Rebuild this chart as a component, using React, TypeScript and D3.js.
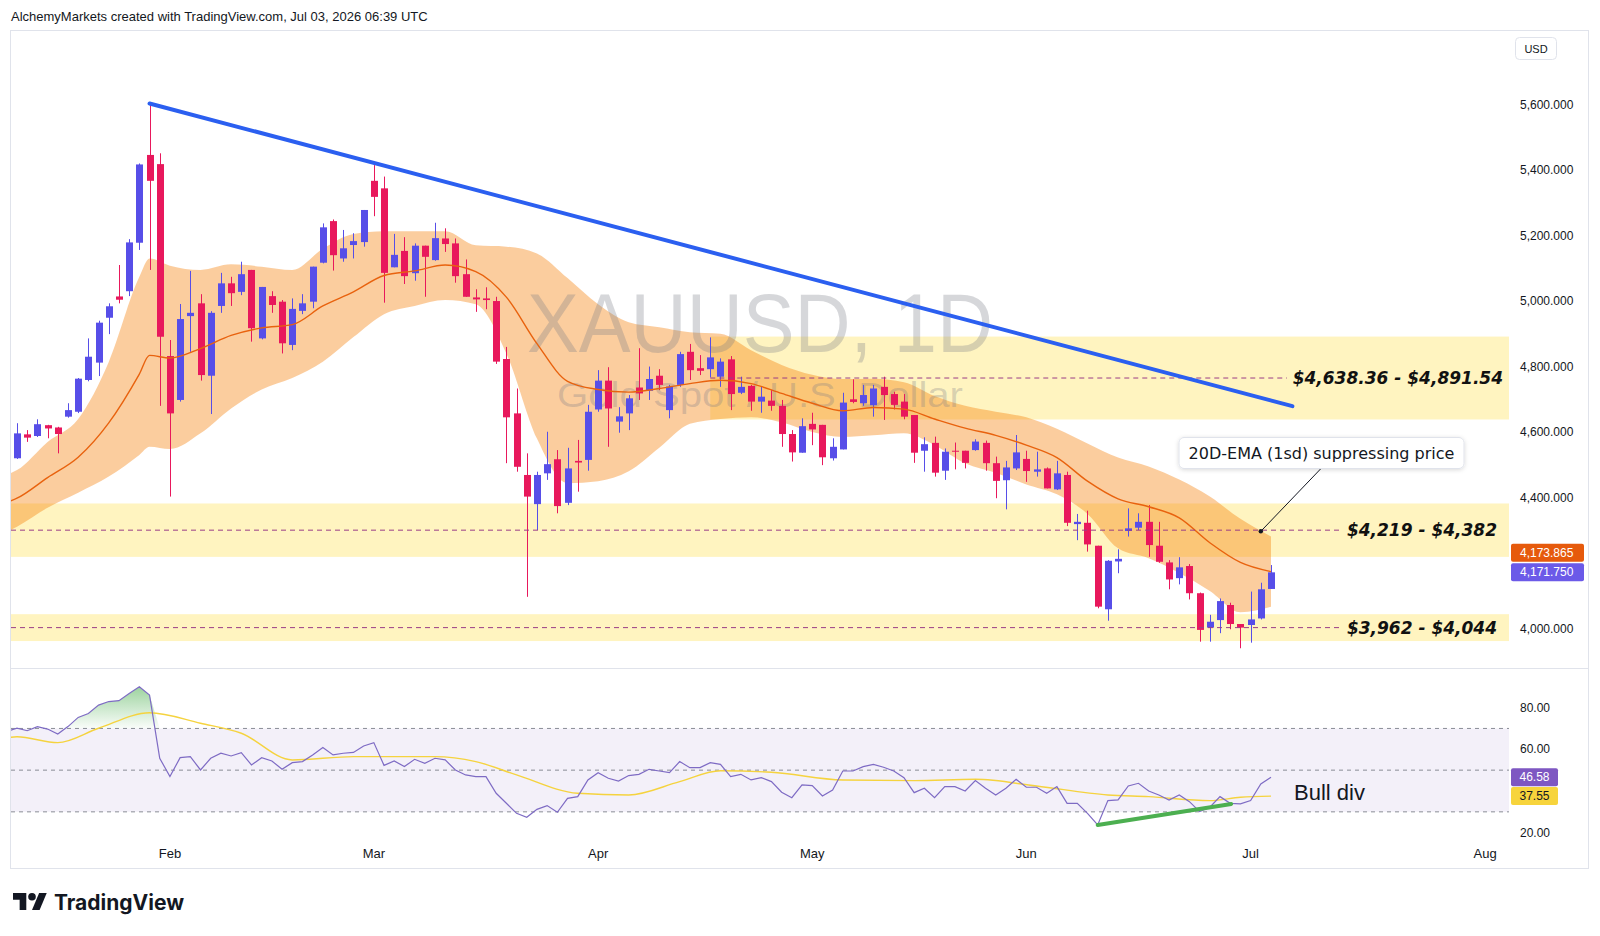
import React from "react";
import * as d3 from "d3";

const W = 1600;
const H = 936;

// daily candles, bar 0 = mid Jan 2026, bar 123 = Jul 3 2026
const opens = [
  4520, 4593, 4588, 4621, 4614, 4647, 4662, 4759, 4812, 4949, 5014, 5030, 5178, 5446, 5418, 4832,
  4698, 4954, 4993, 4772, 4985, 5054, 5028, 5095, 4886, 5015, 4998, 4866, 4970, 4998, 5117, 5244,
  5130, 5171, 5180, 5367, 5344, 5103, 5153, 5085, 5169, 5125, 5191, 5176, 5082, 5011, 5008, 5000,
  4823, 4657, 4469, 4380, 4474, 4517, 4384, 4512, 4515, 4669, 4757, 4632, 4657, 4736, 4726, 4772,
  4667, 4744, 4845, 4795, 4792, 4769, 4822, 4720, 4741, 4693, 4696, 4680, 4594, 4537, 4625, 4622,
  4520, 4547, 4700, 4688, 4682, 4738, 4716, 4693, 4652, 4543, 4567, 4482, 4543, 4543, 4545, 4567,
  4505, 4453, 4489, 4518, 4479, 4489, 4425, 4469, 4319, 4323, 4253, 4059, 4205, 4298, 4308, 4326,
  4253, 4202, 4154, 4191, 4108, 4003, 4026, 4072, 4014, 4011, 4031, 4121,
];
const highs = [
  4627, 4606, 4639, 4622, 4616, 4688, 4765, 4886, 4940, 4993, 5110, 5189, 5420, 5603, 5451, 4881,
  4991, 5092, 5021, 4969, 5086, 5074, 5120, 5095, 5043, 5030, 5003, 5008, 5021, 5105, 5237, 5249,
  5217, 5207, 5278, 5415, 5380, 5205, 5195, 5176, 5169, 5239, 5222, 5191, 5127, 5036, 5042, 5013,
  4860, 4733, 4535, 4479, 4601, 4545, 4552, 4576, 4683, 4789, 4798, 4676, 4713, 4856, 4800, 4792,
  4744, 4845, 4869, 4835, 4889, 4825, 4832, 4769, 4744, 4738, 4728, 4698, 4606, 4642, 4659, 4622,
  4581, 4720, 4761, 4744, 4744, 4769, 4723, 4716, 4652, 4584, 4586, 4550, 4568, 4543, 4578, 4574,
  4525, 4512, 4591, 4543, 4540, 4492, 4512, 4479, 4350, 4360, 4253, 4209, 4242, 4367, 4352, 4377,
  4326, 4209, 4218, 4197, 4110, 4042, 4092, 4079, 4014, 4113, 4140, 4194,
];
const lows = [
  4518, 4570, 4585, 4581, 4535, 4644, 4658, 4755, 4771, 4899, 4993, 5015, 5156, 5095, 4680, 4403,
  4693, 4845, 4757, 4655, 4964, 4985, 5018, 4876, 4883, 4964, 4840, 4850, 4960, 4978, 5115, 5093,
  5120, 5130, 5166, 5259, 4995, 5103, 5052, 5062, 5013, 5123, 5150, 5056, 5013, 4967, 4975, 4808,
  4505, 4479, 4097, 4301, 4454, 4352, 4377, 4418, 4482, 4662, 4555, 4598, 4606, 4698, 4698, 4728,
  4642, 4738, 4759, 4774, 4767, 4738, 4667, 4716, 4665, 4659, 4665, 4555, 4510, 4537, 4560, 4499,
  4513, 4547, 4688, 4680, 4647, 4637, 4669, 4639, 4506, 4479, 4464, 4454, 4486, 4489, 4543, 4482,
  4398, 4364, 4484, 4448, 4464, 4428, 4423, 4313, 4270, 4235, 4062, 4024, 4169, 4281, 4301, 4219,
  4201, 4120, 4135, 4089, 3960, 3960, 3986, 3998, 3940, 3957, 4028, 4121,
];
const closes = [
  4596, 4583, 4624, 4611, 4594, 4667, 4763, 4830, 4934, 4984, 5004, 5179, 5417, 5367, 4891, 4657,
  4945, 4964, 4774, 4964, 5054, 5024, 5082, 4917, 5043, 4988, 4871, 4976, 4993, 5105, 5225, 5140,
  5161, 5183, 5278, 5318, 5086, 5141, 5076, 5169, 5135, 5192, 5174, 5076, 5013, 5005, 5003, 4815,
  4645, 4494, 4403, 4469, 4502, 4374, 4489, 4507, 4662, 4757, 4672, 4648, 4703, 4718, 4762, 4744,
  4739, 4838, 4789, 4787, 4828, 4815, 4716, 4738, 4693, 4708, 4680, 4594, 4538, 4618, 4608, 4523,
  4555, 4690, 4692, 4713, 4733, 4713, 4683, 4647, 4537, 4563, 4476, 4540, 4540, 4506, 4571, 4505,
  4451, 4492, 4538, 4481, 4486, 4428, 4474, 4323, 4326, 4257, 4067, 4207, 4213, 4306, 4326, 4255,
  4204, 4150, 4187, 4108, 3996, 4021, 4084, 4014, 4003, 4028, 4120, 4171.75,
];

// 20D EMA with +/- 1 sd band, read every few bars
const bandIdx = [-1, 0, 3, 6, 9, 12, 13, 15, 18, 21, 24, 27, 30, 33, 36, 39, 42, 45, 48, 51, 54, 57, 60, 63, 66, 69, 72, 75, 78, 81, 84, 87, 90, 93, 96, 99, 102, 105, 108, 111, 114, 117, 120, 123];
const emaMid = [4385, 4398, 4461, 4523, 4628, 4777, 4834, 4826, 4855, 4895, 4918, 4928, 4985, 5028, 5078, 5092, 5110, 5090, 5012, 4870, 4755, 4730, 4722, 4733, 4748, 4758, 4748, 4718, 4688, 4665, 4675, 4670, 4640, 4612, 4590, 4560, 4522, 4450, 4396, 4372, 4338, 4262, 4202, 4173.865];
const bandUpper = [4470, 4484, 4570, 4640, 4814, 5074, 5130, 5108, 5095, 5112, 5105, 5095, 5160, 5205, 5213, 5213, 5213, 5170, 5166, 5145, 5070, 4990, 4935, 4920, 4905, 4900, 4850, 4805, 4775, 4762, 4763, 4752, 4710, 4680, 4662, 4645, 4610, 4565, 4522, 4495, 4455, 4403, 4335, 4281];
const bandLower = [4295, 4311, 4369, 4415, 4464, 4530, 4555, 4548, 4596, 4672, 4730, 4765, 4815, 4890, 4960, 4985, 5003, 4990, 4840, 4580, 4444, 4450, 4480, 4552, 4625, 4640, 4645, 4630, 4600, 4585, 4590, 4596, 4560, 4505, 4476, 4440, 4410, 4350, 4245, 4215, 4170, 4115, 4050, 4067];

// RSI(14), first value is the partial bar at the left edge (bar -1)
const rsiVals = [
  68.5,
  70.1, 68.9, 70.9, 69.7, 67.3, 70.9, 75.3, 77.2, 81.2, 82.9, 83.3, 86.8, 90.0, 86.0, 55.7, 46.9,
  56.0, 56.5, 50.1, 55.7, 58.1, 56.8, 58.4, 52.5, 56.0, 54.4, 50.4, 53.6, 54.1, 57.3, 60.9, 57.3,
  58.1, 58.5, 61.6, 63.2, 52.3, 54.4, 51.7, 55.2, 53.3, 55.7, 54.9, 50.1, 47.7, 46.9, 46.9, 38.9,
  34.1, 29.3, 27.4, 31.2, 33.0, 29.8, 36.5, 37.3, 45.3, 48.8, 46.1, 44.8, 47.4, 48.0, 50.4, 49.6,
  48.8, 54.1, 51.2, 51.2, 53.6, 52.8, 46.9, 48.0, 45.3, 46.4, 44.5, 39.4, 36.8, 42.9, 42.6, 37.6,
  40.5, 49.6, 49.6, 51.7, 52.8, 51.4, 49.6, 46.4, 39.2, 41.3, 36.8, 42.1, 42.1, 40.0, 45.0, 41.3,
  38.1, 41.3, 45.6, 41.8, 41.8, 38.9, 42.1, 34.1, 34.1, 29.3, 23.7, 35.4, 35.7, 42.4, 43.7, 40.0,
  38.1, 35.7, 38.1, 34.9, 30.1, 32.2, 37.3, 34.1, 33.8, 35.4, 43.4, 46.58,
];
const rsiMaIdx = [-1, 0, 4, 8, 13, 18, 22, 27, 33, 41, 45, 49, 55, 60, 65, 69, 74, 81, 88, 94, 100, 107, 111, 117, 120, 123];
const rsiMaVals = [65.5, 66.0, 63.2, 70.1, 77.5, 72.5, 67.7, 54.9, 56.5, 56.5, 54.1, 47.7, 38.9, 38.1, 44.5, 49.7, 49.0, 45.3, 45.0, 45.6, 42.4, 38.1, 37.3, 35.4, 37.0, 37.55];

// 4,200 and 40.00 sit under the last-value boxes in the reference, so they are not shown
const priceTicks = [4000, 4400, 4600, 4800, 5000, 5200, 5400, 5600];
const rsiTicks = [20, 60, 80];
const rsiBands = [70, 50, 30];
const monthLabels = ["Feb", "Mar", "Apr", "May", "Jun", "Jul", "Aug"];
const monthIdx = [15, 35, 57, 78, 99, 121, 144];

// supply / demand zones
const zoneLow = [4638.36, 4219, 3962];
const zoneHigh = [4891.54, 4382, 4044];
const zoneStart = [68, -1, -1];
const zoneText = ["$4,638.36 - $4,891.54", "$4,219 - $4,382", "$3,962 - $4,044"];
const zoneTextEnd = [1503, 1497, 1497];

const trendIdx = [13, 125.1];
const trendPrice = [5603, 4679];
const divIdx = [106, 119.1];
const divRsi = [23.7, 33.8];
const calloutPoint = { i: 122, p: 4297 };

const UP = "#574ee8";
const DOWN = "#e8185c";
const TXT = "#131722";
const FONT = "'Liberation Sans', Arial, sans-serif";

export default function App() {
  const plotL = 11;
  const plotR = 1509;
  const x = d3.scaleLinear().domain([0, 123]).range([17, 1271]);
  const y = d3.scaleLinear().domain([4000, 5600]).range([628.6, 104.5]);
  const ry = d3.scaleLinear().domain([20, 80]).range([832.7, 707.6]);

  const bandPts = bandIdx.map((b, k) => ({ i: b, mid: emaMid[k], up: bandUpper[k], lo: bandLower[k] }));
  const bandPath = d3
    .area<any>()
    .x((d) => x(d.i))
    .y0((d) => y(d.lo))
    .y1((d) => y(d.up))
    .curve(d3.curveMonotoneX)(bandPts);
  const emaPath = d3
    .line<any>()
    .x((d) => x(d.i))
    .y((d) => y(d.mid))
    .curve(d3.curveMonotoneX)(bandPts);

  const rsiPts = rsiVals.map((r, k) => ({ i: k - 1, r }));
  const rsiPath = d3
    .line<any>()
    .x((d) => x(d.i))
    .y((d) => ry(d.r))(rsiPts);
  const obPath = d3
    .area<any>()
    .x((d) => x(d.i))
    .y0(ry(70))
    .y1((d) => ry(Math.max(d.r, 70)))(rsiPts);
  const maPts = rsiMaIdx.map((i, k) => ({ i, r: rsiMaVals[k] }));
  const maPath = d3
    .line<any>()
    .x((d) => x(d.i))
    .y((d) => ry(d.r))
    .curve(d3.curveMonotoneX)(maPts);

  const lastClose = closes[closes.length - 1];
  const closeY = y(lastClose);
  const emaY = closeY - 19.5;

  return (
    <svg
      width={W}
      height={H}
      viewBox={`0 0 ${W} ${H}`}
      style={{ position: "absolute", left: 0, top: 0, display: "block", background: "#fff" }}
    >
      <defs>
        <clipPath id="pricePane">
          <rect x={plotL} y={31} width={plotR - plotL} height={637} />
        </clipPath>
        <clipPath id="rsiPane">
          <rect x={plotL} y={669} width={plotR - plotL} height={175} />
        </clipPath>
        <linearGradient id="obFill" gradientUnits="userSpaceOnUse" x1="0" y1={ry(92)} x2="0" y2={ry(70)}>
          <stop offset="0" stopColor="#4caf50" stopOpacity={0.6} />
          <stop offset="1" stopColor="#4caf50" stopOpacity={0.03} />
        </linearGradient>
        <filter id="shadow" x="-10%" y="-30%" width="120%" height="170%">
          <feDropShadow dx="0" dy="1" stdDeviation="2" floodColor="#000" floodOpacity="0.15" />
        </filter>
      </defs>

      <rect x={0} y={0} width={W} height={H} fill="#fff" />

      <text x={11} y={21} fontFamily={FONT} fontSize={13} fill={TXT}>
        AlchemyMarkets created with TradingView.com, Jul 03, 2026 06:39 UTC
      </text>

      {/* chart frame */}
      <rect x={10.5} y={30.5} width={1578} height={838} fill="none" stroke="#e0e3eb" />
      <line x1={11} x2={1588} y1={668.5} y2={668.5} stroke="#e0e3eb" />

      {/* price pane */}
      <g clipPath="url(#pricePane)">
        {zoneLow.map((lo, k) => (
          <rect
            key={"z" + k}
            x={Math.max(plotL, x(zoneStart[k]))}
            y={y(zoneHigh[k])}
            width={plotR - Math.max(plotL, x(zoneStart[k]))}
            height={y(lo) - y(zoneHigh[k])}
            fill="#fff4c0"
          />
        ))}

        <path d={bandPath || ""} fill="#f57c00" fillOpacity={0.38} />

        <text x={527} y={352} fontFamily={FONT} fontSize={84} fill="rgba(120,123,134,0.3)" textLength={466} lengthAdjust="spacingAndGlyphs">
          XAUUSD, 1D
        </text>
        <text x={557} y={407} fontFamily={FONT} fontSize={35} fill="rgba(120,123,134,0.3)" textLength={406} lengthAdjust="spacingAndGlyphs">
          Gold Spot / U.S. Dollar
        </text>

        {opens.map((o, i) => {
          const c = closes[i];
          const up = c >= o;
          const col = up ? UP : DOWN;
          const cx = Math.round(x(i)) + 0.5;
          const top = y(Math.max(o, c));
          const bh = Math.max(1, y(Math.min(o, c)) - top);
          return (
            <g key={"c" + i}>
              <line x1={cx} x2={cx} y1={y(highs[i])} y2={y(lows[i])} stroke={col} strokeWidth={1} />
              <rect x={cx - 3.5} y={top} width={7} height={bh} fill={col} />
            </g>
          );
        })}

        <path d={emaPath || ""} fill="none" stroke="#e8620e" strokeWidth={1.4} />

        {zoneLow.map((lo, k) => {
          const mid = (lo + zoneHigh[k]) / 2;
          const labelW = zoneText[k].length * 10;
          return (
            <g key={"zl" + k}>
              <line
                x1={Math.max(plotL, x(zoneStart[k]))}
                x2={zoneTextEnd[k] - labelW - 6}
                y1={y(mid)}
                y2={y(mid)}
                stroke="#9a3d86"
                strokeWidth={1}
                strokeDasharray="5 4"
              />
              <text
                x={zoneTextEnd[k]}
                y={y(mid)}
                textAnchor="end"
                dominantBaseline="central"
                fontFamily="'DejaVu Sans', sans-serif"
                fontWeight="bold"
                fontStyle="italic"
                fontSize={17}
                fill="#111"
              >
                {zoneText[k]}
              </text>
            </g>
          );
        })}

        <line
          x1={x(trendIdx[0])}
          y1={y(trendPrice[0])}
          x2={x(trendIdx[1])}
          y2={y(trendPrice[1])}
          stroke="#2b5ff0"
          strokeWidth={4}
          strokeLinecap="round"
        />

        {/* callout */}
        <line x1={1321} y1={468.5} x2={x(calloutPoint.i)} y2={y(calloutPoint.p)} stroke={TXT} strokeWidth={1} />
        <circle cx={x(calloutPoint.i)} cy={y(calloutPoint.p)} r={2.2} fill={TXT} />
        <rect x={1179} y={437.5} width={285} height={31} rx={5} fill="#fff" stroke="#e0e3eb" filter="url(#shadow)" />
        <text x={1321.5} y={453.5} textAnchor="middle" dominantBaseline="central" fontFamily="'DejaVu Sans', sans-serif" fontSize={16} fill={TXT}>
          20D-EMA (1sd) suppressing price
        </text>
      </g>

      {/* price scale */}
      <rect x={1515.5} y={37.5} width={41} height={22} rx={4} fill="#fff" stroke="#e0e3eb" />
      <text x={1536} y={49} textAnchor="middle" dominantBaseline="central" fontFamily={FONT} fontSize={11} fill={TXT}>
        USD
      </text>
      {priceTicks.map((p) => (
        <text key={"p" + p} x={1520} y={y(p)} dominantBaseline="central" fontFamily={FONT} fontSize={12} fill={TXT}>
          {d3.format(",.3f")(p)}
        </text>
      ))}
      <rect x={1511} y={emaY - 9} width={73} height={18} rx={2} fill="#e65a0c" />
      <text x={1520} y={emaY} dominantBaseline="central" fontFamily={FONT} fontSize={12} fill="#fff">
        {d3.format(",.3f")(emaMid[emaMid.length - 1])}
      </text>
      <rect x={1511} y={closeY - 9} width={73} height={18} rx={2} fill="#6b5ae8" />
      <text x={1520} y={closeY} dominantBaseline="central" fontFamily={FONT} fontSize={12} fill="#fff">
        {d3.format(",.3f")(lastClose)}
      </text>

      {/* RSI pane */}
      <g clipPath="url(#rsiPane)">
        <rect x={plotL} y={ry(70)} width={plotR - plotL} height={ry(30) - ry(70)} fill="#7e57c2" fillOpacity={0.09} />
        {rsiBands.map((b) => (
          <line key={"rb" + b} x1={plotL} x2={plotR} y1={ry(b)} y2={ry(b)} stroke="#8a8d96" strokeWidth={1} strokeDasharray="4 4" />
        ))}
        <path d={obPath || ""} fill="url(#obFill)" />
        <path d={maPath || ""} fill="none" stroke="#f5d33f" strokeWidth={1.4} />
        <path d={rsiPath || ""} fill="none" stroke="#7e6bc4" strokeWidth={1.2} />
        <line
          x1={x(divIdx[0])}
          y1={ry(divRsi[0])}
          x2={x(divIdx[1])}
          y2={ry(divRsi[1])}
          stroke="#4caf50"
          strokeWidth={4}
          strokeLinecap="round"
        />
        <text x={1294} y={792} dominantBaseline="central" fontFamily={FONT} fontSize={22} fill={TXT}>
          Bull div
        </text>
      </g>
      {rsiTicks.map((r) => (
        <text key={"r" + r} x={1520} y={ry(r)} dominantBaseline="central" fontFamily={FONT} fontSize={12} fill={TXT}>
          {d3.format(".2f")(r)}
        </text>
      ))}
      <rect x={1511} y={ry(rsiVals[rsiVals.length - 1]) - 9} width={47} height={18} rx={2} fill="#7e57c2" />
      <text x={1534.5} y={ry(rsiVals[rsiVals.length - 1])} textAnchor="middle" dominantBaseline="central" fontFamily={FONT} fontSize={12} fill="#fff">
        {d3.format(".2f")(rsiVals[rsiVals.length - 1])}
      </text>
      <rect x={1511} y={ry(rsiMaVals[rsiMaVals.length - 1]) - 9} width={47} height={18} rx={2} fill="#f7d43c" />
      <text x={1534.5} y={ry(rsiMaVals[rsiMaVals.length - 1])} textAnchor="middle" dominantBaseline="central" fontFamily={FONT} fontSize={12} fill={TXT}>
        {d3.format(".2f")(rsiMaVals[rsiMaVals.length - 1])}
      </text>

      {/* time axis */}
      {monthLabels.map((m, k) => (
        <text key={m} x={x(monthIdx[k])} y={853} textAnchor="middle" dominantBaseline="central" fontFamily={FONT} fontSize={13} fill={TXT}>
          {m}
        </text>
      ))}

      {/* TradingView logo */}
      <g transform="translate(13,889.2) scale(0.95)" fill={TXT}>
        <path d="M14 22H7V11H0V4h14v18z" />
        <path d="M28 22h-8l7.5-18h8L28 22z" />
        <circle cx={20} cy={8} r={4} />
      </g>
      <text x={54} y={910} fontFamily="Inter, sans-serif" fontWeight={700} fontSize={21} fill={TXT}>
        TradingView
      </text>
    </svg>
  );
}
